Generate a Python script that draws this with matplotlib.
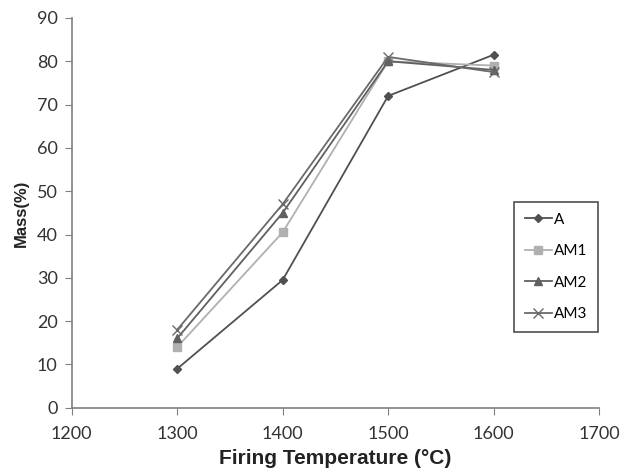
import matplotlib
matplotlib.use("Agg")
import matplotlib.pyplot as plt

temps = [1300, 1400, 1500, 1600]
series_names = ["A", "AM1", "AM2", "AM3"]
mass_A = [9, 29.5, 72, 81.5]
mass_AM1 = [14, 40.5, 80, 79]
mass_AM2 = [16, 45, 80, 78]
mass_AM3 = [18, 47, 81, 77.5]

styles = [
    dict(color="#505050", marker="D", ms=4),
    dict(color="#b0b0b0", marker="s", ms=6),
    dict(color="#606060", marker="^", ms=6),
    dict(color="#6a6a6a", marker="x", ms=7, mew=1.0),
]

fig = plt.figure(figsize=(6.34, 4.72), dpi=100)
ax = fig.add_axes([0.113, 0.136, 0.832, 0.826])

for name, vals, st in zip(series_names, [mass_A, mass_AM1, mass_AM2, mass_AM3], styles):
    ax.plot(temps, vals, lw=1.3, label=name, **st)

ax.set_xlim(1200, 1700)
ax.set_ylim(0, 90)
ax.set_xticks(range(1200, 1701, 100))
ax.set_yticks(range(0, 91, 10))
for s in ["top", "right"]:
    ax.spines[s].set_visible(False)
for s in ["left", "bottom"]:
    ax.spines[s].set_color("#808080")
    ax.spines[s].set_linewidth(1.2)
ax.tick_params(axis="both", colors="#808080", labelcolor="#333333", labelsize=13, length=5)
ax.tick_params(axis="x", pad=8)
ax.tick_params(axis="y", pad=5)
for lbl in ax.get_xticklabels() + ax.get_yticklabels():
    lbl.set_family("Lato")

ax.set_xlabel("Firing Temperature (°C)", fontsize=15, fontweight="bold", family="Liberation Sans", color="#222222", labelpad=5)
ax.set_ylabel("Mass(%)", fontsize=12, fontweight="bold", family="Liberation Sans", color="#222222", labelpad=6)

leg = ax.legend(loc="upper left", bbox_to_anchor=(514/634, 1-202/472), bbox_transform=fig.transFigure,
                frameon=True, fancybox=False, edgecolor="#222222", handlelength=1.8, handletextpad=0.1,
                labelspacing=1.15, borderpad=0.7, borderaxespad=0, prop={"family": "Lato", "size": 11})
leg.get_frame().set_linewidth(1.2)

fig.savefig("out.png", dpi=100, facecolor="white")
